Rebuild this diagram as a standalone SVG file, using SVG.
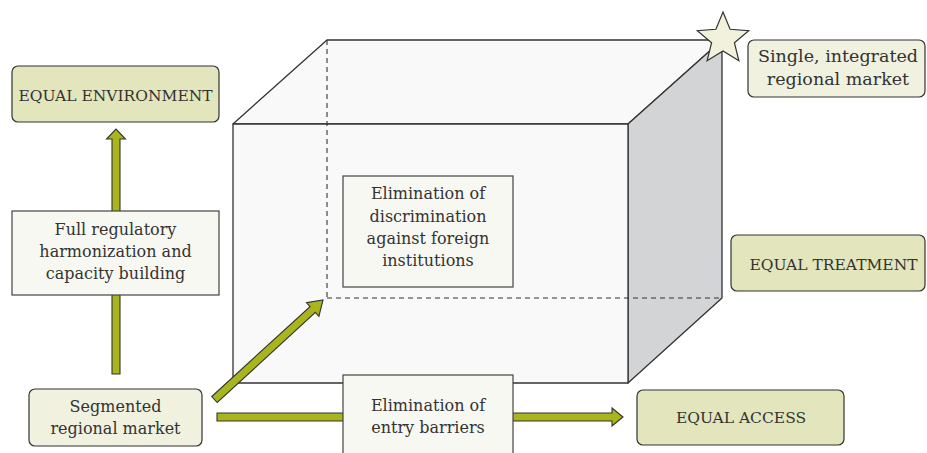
<svg xmlns="http://www.w3.org/2000/svg" width="927" height="453" viewBox="0 0 927 453">
<style>
text{font-family:"DejaVu Serif","Liberation Serif",serif;fill:#333;text-anchor:middle}
.t{font-size:16px}
.c{font-size:15.5px}
.s{font-size:17.5px}
.olive{fill:#e3e5bc;stroke:#333;stroke-width:1.2}
.light{fill:#f1f1e0;stroke:#333;stroke-width:1.2}
.sq{fill:#f8f8f2;stroke:#444;stroke-width:1.2}
.face{fill:#f9f9f9;stroke:#333;stroke-width:1.3;stroke-linejoin:round}
.side{fill:#d3d4d6;stroke:#333;stroke-width:1.3;stroke-linejoin:round}
.dash{fill:none;stroke:#333;stroke-width:1.1;stroke-dasharray:5,4}
.arr{fill:#a9b51d;stroke:#333;stroke-width:1.1;stroke-linejoin:miter}
</style>
<g id="cube">
<polygon class="face" points="233,124 327,40 722,40 628,124"/>
<polygon class="side" points="628,124 722,40 722,298 628,383"/>
<rect class="face" x="233" y="124" width="395" height="259"/>
<line class="dash" x1="327" y1="40" x2="327" y2="298"/>
<line class="dash" x1="327" y1="298" x2="722" y2="298"/>
</g>
<g id="connectors">
<polygon class="arr" points="112,374 112,139 106.5,139 116,129 125.5,139 120,139 120,374"/>
<polygon class="arr" points="211.8,396.5 310,306.6 306.5,302.6 323,300 318.9,316.4 315.4,312.4 217.2,402.5"/>
<polygon class="arr" points="217,413 612,413 612,408 623,417 612,426 612,421 217,421"/>
</g>
<g id="star">
<polygon points="723,12 730.1,29.3 748.7,30.7 734.4,42.7 738.9,60.8 723,51 707.1,60.8 711.6,42.7 697.3,30.7 715.9,29.3" fill="#f1f1dc" stroke="#333" stroke-width="1.2" stroke-linejoin="miter"/>
</g>
<g id="single-market">
<rect class="light" x="748" y="40" width="177" height="57" rx="6"/>
<text class="s" x="838" y="62">Single, integrated</text>
<text class="s" x="838" y="85">regional market</text>
</g>
<g id="equal-environment">
<rect class="olive" x="12" y="66" width="207" height="56" rx="6"/>
<text class="c" x="115.5" y="101">EQUAL ENVIRONMENT</text>
</g>
<g id="full-regulatory">
<rect class="sq" x="12" y="211" width="207" height="84"/>
<text class="t" x="115.5" y="235">Full regulatory</text>
<text class="t" x="115.5" y="257">harmonization and</text>
<text class="t" x="115.5" y="279">capacity building</text>
</g>
<g id="segmented">
<rect class="light" x="29" y="389" width="173" height="57" rx="6"/>
<text class="t" x="115.5" y="412">Segmented</text>
<text class="t" x="115.5" y="434">regional market</text>
</g>
<g id="discrimination">
<rect class="sq" x="343" y="176" width="170" height="111"/>
<text class="t" x="428" y="199">Elimination of</text>
<text class="t" x="428" y="222">discrimination</text>
<text class="t" x="428" y="244">against foreign</text>
<text class="t" x="428" y="266">institutions</text>
</g>
<g id="entry-barriers">
<rect class="sq" x="343" y="375" width="170" height="80"/>
<text class="t" x="428" y="411">Elimination of</text>
<text class="t" x="428" y="433">entry barriers</text>
</g>
<g id="equal-treatment">
<rect class="olive" x="731" y="235" width="194" height="56" rx="6"/>
<text class="c" x="833.5" y="270">EQUAL TREATMENT</text>
</g>
<g id="equal-access">
<rect class="olive" x="637" y="390" width="207" height="55" rx="6"/>
<text class="c" x="741" y="423">EQUAL ACCESS</text>
</g>
</svg>
